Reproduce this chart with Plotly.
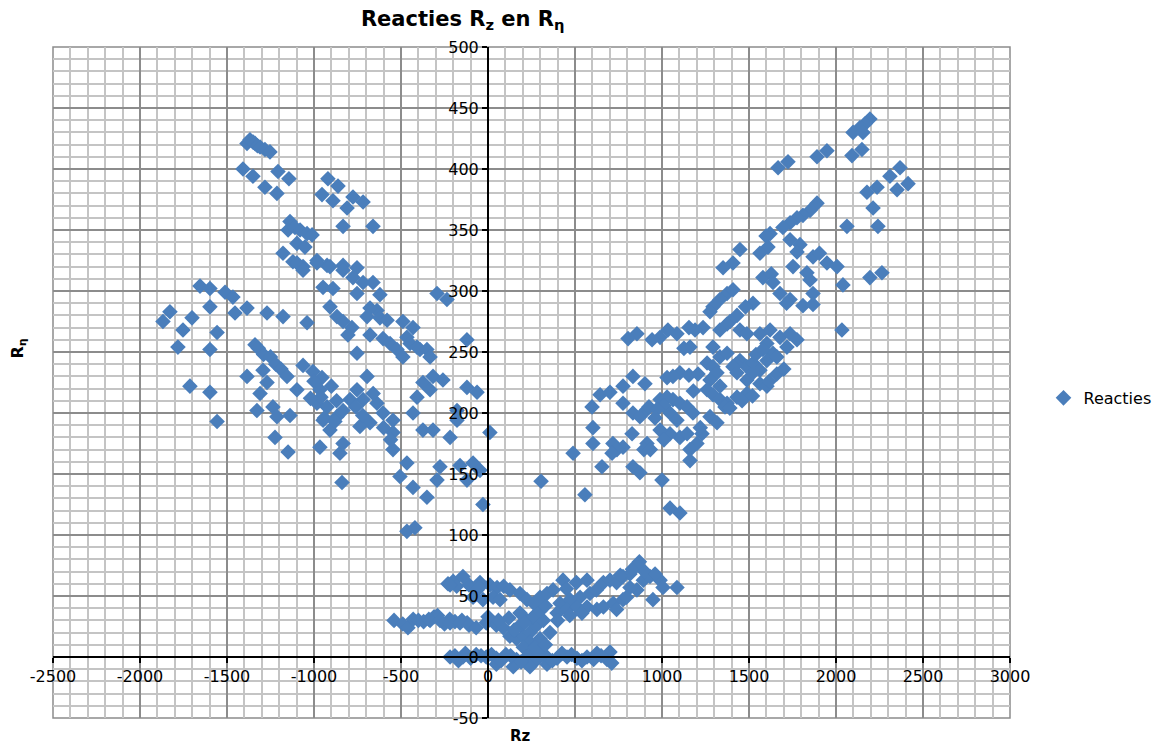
import plotly.graph_objects as go

# Upper part of the left branch
rz_left_top = [-1385, -1368, -1350, -1339, -1325, -1310, -1282, -1253,
               -1408, -1351, -1282, -1213, -1207, -1144,
               -1138, -1149, -1109, -1080, -1040, -1011, -1098, -1052,
               -1178, -1121, -1063, -983, -925, -833, -753,
               -920, -862, -954, -891, -776, -718, -810, -833, -661]
eta_left_top = [421, 424, 422, 421, 419, 418, 416, 414,
                400, 394, 385, 380, 398, 392,
                357, 350, 352, 350, 347, 346, 339, 336,
                331, 324, 320, 325, 321, 321, 319,
                392, 386, 379, 374, 377, 373, 368, 353, 353]

# Middle / lower part of the left branch
rz_left_mid = [-1868, -1828, -1782, -1753, -1701, -1713, -1655, -1598, -1598, -1557, -1598, -1598, -1557,
               -1511, -1466, -1454, -1385,
               -1339, -1320, -1290, -1250, -1220, -1190, -1385, -1328, -1270, -1178, -1293, -1270, -1310,
               -1236, -1213, -1224, -1138, -1149, -1155, -1098, -1040, -1063, -1006, -954, -966, -983,
               -925, -948, -908, -966, -851, -833, -868, -833, -793, -753, -718, -695, -678, -736, -638,
               -603, -546, -546, -546, -466, -506, -431, -351, -29, -839,
               -753, -805, -782, -678, -603, -563, -523, -489, -466, -448, -408, -391, -351, -333, -431,
               -489, -638, -678, -695, -621, -580, -753, -621, -908, -868, -833, -948, -891, -983, -908,
               -833, -776, -718, -661, -1098, -1063,
               -374, -316, -259, -333, -408, -431, -374, -316, -218, -293, -236, -121, -121, -63, -178,
               -178, 11, -276, -161, -86, -46, -121, -293, -466, -420,
               -1000, -960, -900, -870, -1020, -940, -880, -760, -720, -660, -600, -560]
eta_left_mid = [275, 283, 254, 268, 278, 222, 304, 302, 287, 266, 252, 217, 193,
                299, 295, 282, 286,
                256, 253, 248, 246, 240, 236, 230, 202, 282, 279, 235, 225, 216,
                205, 197, 180, 198, 168, 230, 219, 274, 239, 234, 229, 219, 208,
                205, 194, 186, 172, 167, 175, 197, 202, 211, 219, 211, 230, 192, 189, 208,
                200, 194, 184, 170, 159, 148, 139, 131, 125, 143,
                249, 264, 270, 264, 261, 257, 252, 246, 262, 257, 254, 252, 252, 246, 270,
                275, 284, 286, 279, 278, 276, 298, 297, 287, 279, 275, 303, 302, 323, 320,
                317, 311, 307, 307, 323, 317,
                225, 230, 227, 219, 213, 200, 186, 186, 180, 298, 293, 260, 221, 217, 202,
                194, 184, 156, 157, 159, 153, 145, 145, 103, 106,
                226, 213, 222, 210, 212, 196, 193, 205, 198, 216, 188, 178]

# Right branch
rz_right = [2195, 2167, 2138, 2098, 2155, 2149, 2092, 1948, 1891, 1724, 1667, 2368, 2310, 2414, 2351,
            2236, 2178, 2213, 2241, 2063,
            1891, 1851, 1810, 1776, 1736, 1695, 1621, 1598, 1448, 1609, 1563, 1736, 1793, 1776, 1408,
            1351, 1580, 1628, 1638, 1868, 1905, 1948, 2006, 2040, 1753, 1833, 1851, 1868, 2195, 2264,
            1374, 1333, 1293, 1276, 1408, 1523, 1480, 1678, 1736, 1716, 1810, 1868, 1431, 1391, 1374,
            1333, 1448, 1488, 1563, 1621, 1678, 1736, 1776, 1718, 1603, 1638, 2034, 1236, 1190, 1155,
            1086, 1034, 989, 943, 856, 805, 1161, 1126, 1293, 1333, 1374, 1448, 1488, 1523, 1563, 1603,
            1660, 1425, 1259, 1293, 1316, 1103, 1063, 1029, 1155, 1207, 1276, 1333, 1408, 1431, 1488,
            1523, 1563, 1603, 1616, 833, 902, 776, 644, 598, 701, 776, 833, 873, 914, 925, 989, 1029,
            1063, 1103, 1144, 1178, 1011, 971, 1046, 1086, 1259, 1293, 1333, 1374, 1431, 1488, 1276,
            1316, 1362, 1230, 1201, 1161, 1161, 1103, 1144, 1046, 989, 1011, 914, 896, 933, 828, 776,
            718, 741, 713, 603, 603, 655, 833, 873, 1000, 557, 1046, 1103, 305, 489,
            1540, 1580, 1660, 1700, 1520, 1460, 1390, 1180, 1220, 960]
eta_right = [441, 437, 434, 430, 430, 416, 411, 415, 410, 406, 401, 401, 394, 388, 383,
             385, 381, 368, 353, 353,
             372, 366, 362, 360, 356, 352, 347, 345, 334, 336, 331, 342, 338, 332, 323,
             319, 311, 314, 307, 328, 331, 323, 320, 305, 320, 315, 309, 298, 311, 315,
             298, 293, 287, 283, 301, 290, 287, 298, 293, 290, 288, 289, 280, 275, 273,
             268, 268, 265, 265, 268, 262, 265, 260, 254, 257, 249, 268, 270, 268, 270,
             265, 268, 262, 260, 265, 261, 254, 253, 254, 246, 249, 243, 238, 241, 235, 243,
             246, 240, 241, 238, 233, 233, 230, 229, 231, 232, 227, 222, 238, 233, 227,
             233, 224, 222, 226, 230, 224, 222, 215, 205, 217, 208, 200, 197, 203, 205, 211, 213,
             211, 208, 205, 200, 206, 203, 200, 194, 219, 215, 211, 208, 213, 216, 197,
             192, 205, 183, 175, 170, 161, 180, 183, 183, 186, 178, 175, 170, 170, 183, 172,
             175, 170, 167, 175, 188, 156, 156, 151, 145, 133, 122, 118, 144, 167,
             248, 252, 232, 236, 214, 210, 204, 218, 188, 196]

# Cluster around the origin
rz_bottom = [-540, -490, -460, -430, -400, -370, -340, -310, -290, -250, -220, -190, -150, -120,
             -333, -276, -218, -161, -109, -68, -10, 48, 88, 126, 164, 203, 241, 280, 318, 222, 184,
             241, 299, 356, 184, 260, 300, 330, 203, 260,
             -230, -200, -180, -218, -144, -109, -46, 11, 52, 90, 126, 184, -86, -29, 29, 69, -63,
             224, 263, 299, 339, 374, 431, 508, 569, 451, 414, 471, 529, 586, 623, 663, 701, 739,
             776, 816, 856, 893, 931, 989, 1006, 1086, 948, 856, 816, 397, 454, 511, 569, 626, 663,
             720, 776, 739, 796, 830, 870, 900, 760, 960,
             -218, -190, -144, -100, -68, -10, 48, 103, 164, 222, 280, 339, 397, 454, 511, 569, 626,
             684, 701, 711, 607, 145, 241, 339, 48,
             -170, -130, -40, 20, 75, 130, 190, 310, 370, 425, 480, 540, 650,
             150, 210, 270, 330, 120, 60, 0, -50, 400, 470, 540]
eta_bottom = [30, 27, 24, 31, 30, 29, 31, 33, 34, 27, 31, 29, 30, 28,
              30, 30, 28, 28, 26, 24, 28, 26, 24, 17, 15, 17, 20, 26, 30, 30, 26,
              12, 15, 20, 36, 33, 38, 42, 8, 5,
              60, 62, 58, 59, 66, 59, 61, 59, 57, 58, 55, 52, 49, 47, 49, 47, 55,
              47, 44, 49, 52, 55, 63, 61, 63, 56, 44, 47, 49, 52, 55, 61, 63, 61,
              66, 68, 75, 63, 66, 63, 57, 57, 47, 55, 57, 36, 39, 41, 41, 39, 41,
              44, 47, 39, 49, 72, 78, 70, 67, 68,
              0, 1, 0, -1, 2, 0, -1, 2, -2, 0, -2, 0, -1, 0, -1, 0, 3,
              -2, 4, -5, -2, -8, -8, -6, -6,
              -3, 3, 1, 2, -3, 1, -4, 2, -3, 3, 2, -3, 1,
              22, 28, 8, 10, 32, 30, 33, 57, 30, 34, 36]

# Tick labels (hyphen-minus as in the original)
x_ticks = [-2500, -2000, -1500, -1000, -500, 0, 500, 1000, 1500, 2000, 2500, 3000]
x_tick_labels = ['-2500', '-2000', '-1500', '-1000', '-500', '0', '500', '1000', '1500', '2000', '2500', '3000']
y_ticks = [-50, 0, 50, 100, 150, 200, 250, 300, 350, 400, 450, 500]
y_tick_labels = ['-50', '0', '50', '100', '150', '200', '250', '300', '350', '400', '450', '500']

rz = rz_left_top + rz_left_mid + rz_right + rz_bottom
r_eta = eta_left_top + eta_left_mid + eta_right + eta_bottom

font_family = 'DejaVu Sans'

fig = go.Figure()

fig.add_trace(go.Scatter(
    x=rz,
    y=r_eta,
    mode='markers',
    name='Reacties',
    marker=dict(symbol='diamond', size=12, color='#4a7ebb', line=dict(width=0))
))

# the page body adds an 8px offset, so the figure is 8px smaller than the window
fig.update_layout(
    width=1154,
    height=741,
    margin=dict(l=45, r=152, t=39, b=31, autoexpand=False),
    paper_bgcolor='white',
    plot_bgcolor='white',
    font=dict(family=font_family, size=15, color='black'),
    title=dict(
        text='<b>Reacties R<sub>z</sub> en R<sub>η</sub></b>',
        x=0.394, xanchor='center', y=0.986, yanchor='middle',
        font=dict(family=font_family, size=21, color='black')
    ),
    showlegend=True,
    legend=dict(x=1.035, y=0.477, xanchor='left', yanchor='middle',
                font=dict(family=font_family, size=16)),
    xaxis=dict(
        range=[-2500, 3000], tickvals=x_ticks, ticktext=x_tick_labels,
        anchor='free', position=50 / 550,
        showline=True, linecolor='black', linewidth=2,
        ticks='outside', ticklen=5, tickcolor='black', tickwidth=1.5,
        showgrid=True, gridcolor='#8c8c8c', gridwidth=1.5,
        minor=dict(dtick=100, showgrid=True, gridcolor='#c4c4c4', gridwidth=1.5),
        zeroline=False,
        tickfont=dict(family=font_family, size=16)
    ),
    yaxis=dict(
        range=[-50, 500], tickvals=y_ticks, ticktext=y_tick_labels,
        anchor='free', position=2500 / 5500,
        showline=True, linecolor='black', linewidth=2,
        ticks='outside', ticklen=5, tickcolor='black', tickwidth=1.5,
        showgrid=True, gridcolor='#8c8c8c', gridwidth=1.5,
        minor=dict(dtick=10, showgrid=True, gridcolor='#c4c4c4', gridwidth=1.5),
        zeroline=False,
        tickfont=dict(family=font_family, size=16)
    ),
    shapes=[dict(type='rect', xref='paper', yref='paper', x0=0, y0=0, x1=1, y1=1,
                 line=dict(color='#8c8c8c', width=1.5), layer='below')],
    annotations=[
        dict(text='<b>Rz</b>', xref='paper', yref='paper', x=0.488, y=-0.01,
             xanchor='center', yanchor='top', showarrow=False,
             font=dict(family=font_family, size=15)),
        dict(text='<b>R<sub>η</sub></b>', xref='paper', yref='paper', x=-0.036, y=0.55,
             xanchor='center', yanchor='middle', textangle=-90, showarrow=False,
             font=dict(family=font_family, size=16))
    ]
)

fig.write_html("out.html")
